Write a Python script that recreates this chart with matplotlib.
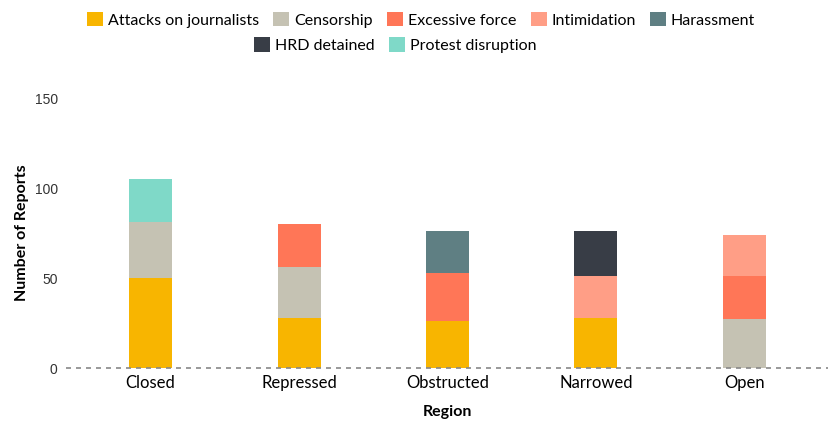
import matplotlib
matplotlib.use("Agg")
import matplotlib.pyplot as plt
from matplotlib.patches import Patch
import numpy as np

# values
regions = ["Closed", "Repressed", "Obstructed", "Narrowed", "Open"]
attacks = [50, 28, 26, 28, 0]
censorship = [31, 28, 0, 0, 27]
excessive_force = [0, 24, 27, 0, 24]
intimidation = [0, 0, 0, 23, 23]
harassment = [0, 0, 23, 0, 0]
hrd_detained = [0, 0, 0, 25, 0]
protest_disruption = [24, 0, 0, 0, 0]

series = [
    ("Attacks on journalists", attacks, "#F8B500"),
    ("Censorship", censorship, "#C5C2B3"),
    ("Excessive force", excessive_force, "#FF7657"),
    ("Intimidation", intimidation, "#FF9E86"),
    ("Harassment", harassment, "#5F7F83"),
    ("HRD detained", hrd_detained, "#383D46"),
    ("Protest disruption", protest_disruption, "#7FD9C8"),
]

fig = plt.figure(figsize=(8.29, 4.21), dpi=100)
ax = fig.add_axes([66 / 829, 53 / 421, 1 - 66 / 829, 270 / 421])

x = np.arange(len(regions))
bottom = np.zeros(len(regions))
for name, vals, color in series:
    vals = np.array(vals, dtype=float)
    ax.bar(x, vals, width=0.29, bottom=bottom, color=color, edgecolor="none")
    bottom += vals

ax.set_xlim(-0.57, 4.57)
ax.set_ylim(0, 150)
ax.set_yticks([0, 50, 100, 150])
ax.set_xticks(x)
ax.set_xticklabels(regions, fontfamily="Lato", fontsize=12)
for lab in ax.get_yticklabels():
    lab.set_fontfamily("Liberation Sans")
    lab.set_fontsize(10)
    lab.set_color("#333333")
ax.tick_params(axis="both", length=0)
ax.tick_params(axis="y", pad=6)
ax.tick_params(axis="x", pad=5)

for s in ax.spines.values():
    s.set_visible(False)
ax.axhline(0, color="#888888", linestyle=(0, (3, 3)), linewidth=1.2, clip_on=False)

ax.set_xlabel("Region", fontfamily="Lato", fontweight="bold", fontsize=11.5, labelpad=10)
ax.set_ylabel("Number of Reports", fontfamily="Lato", fontweight="bold", fontsize=11.5, labelpad=4)

handles = [Patch(facecolor=c, edgecolor="none", label=n) for n, v, c in series]
leg_kw = dict(frameon=False, handlelength=1.0, handleheight=1.0, handletextpad=0.3,
              columnspacing=0.9, prop={"family": "Lato", "size": 11.5})
leg1 = fig.legend(handles=handles[:5], ncol=5, loc="center", bbox_to_anchor=(0.508, 0.953), **leg_kw)
fig.legend(handles=handles[5:], ncol=2, loc="center", bbox_to_anchor=(0.477, 0.893), **leg_kw)

fig.savefig("out.png", dpi=100)
